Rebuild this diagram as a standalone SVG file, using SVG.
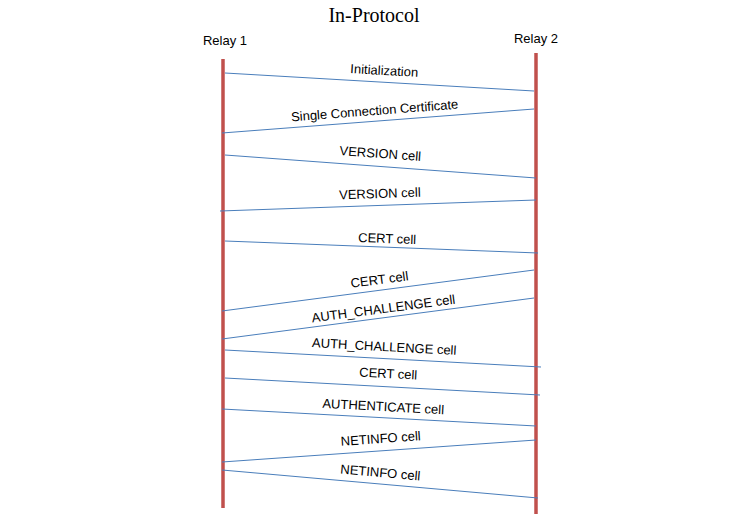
<svg xmlns="http://www.w3.org/2000/svg" width="745" height="529" viewBox="0 0 745 529">
<style>
.lbl{font-family:"Liberation Sans",Arial,sans-serif;font-size:13px;fill:#000;text-anchor:middle}
.title{font-family:"Liberation Serif","Times New Roman",serif;font-size:20px;fill:#000;text-anchor:middle}
.life{stroke:#c0504d;stroke-width:3.5;fill:none}
.msg{stroke:#4a7ebb;stroke-width:1;fill:none}
</style>
<rect width="745" height="529" fill="#fff"/>
<text class="title" x="374" y="22">In-Protocol</text>
<g id="relay1">
<text class="lbl" x="225" y="45">Relay 1</text>
<line class="life" x1="223" y1="59" x2="223" y2="508"/>
</g>
<g id="relay2">
<text class="lbl" x="536" y="43">Relay 2</text>
<line class="life" x1="536" y1="53" x2="536" y2="514"/>
</g>
<g id="connectors">
<line class="msg" x1="225" y1="73" x2="534" y2="91"/>
<line class="msg" x1="534" y1="109" x2="222" y2="133"/>
<line class="msg" x1="225" y1="155" x2="536" y2="178"/>
<line class="msg" x1="536" y1="200" x2="220" y2="211"/>
<line class="msg" x1="225" y1="241" x2="538" y2="253"/>
<line class="msg" x1="534" y1="270" x2="222" y2="311"/>
<line class="msg" x1="534" y1="298" x2="222" y2="339"/>
<line class="msg" x1="225" y1="350" x2="541" y2="367"/>
<line class="msg" x1="225" y1="378" x2="540" y2="395"/>
<line class="msg" x1="222" y1="409" x2="536" y2="426"/>
<line class="msg" x1="536" y1="440" x2="222" y2="462"/>
<line class="msg" x1="222" y1="470" x2="538" y2="498"/>
</g>
<g id="labels">
<text class="lbl" transform="translate(384,75) rotate(3.3)">Initialization</text>
<text class="lbl" transform="translate(375,115) rotate(-4.4)">Single Connection Certificate</text>
<text class="lbl" transform="translate(380,158) rotate(4.2)">VERSION cell</text>
<text class="lbl" transform="translate(380,198) rotate(-2)">VERSION cell</text>
<text class="lbl" transform="translate(387,243) rotate(2.2)">CERT cell</text>
<text class="lbl" transform="translate(380,284) rotate(-7.5)">CERT cell</text>
<text class="lbl" transform="translate(384,313) rotate(-7.5)">AUTH_CHALLENGE cell</text>
<text class="lbl" transform="translate(384,351) rotate(3.1)">AUTH_CHALLENGE cell</text>
<text class="lbl" transform="translate(388,378) rotate(3.1)">CERT cell</text>
<text class="lbl" transform="translate(383,411) rotate(3.1)">AUTHENTICATE cell</text>
<text class="lbl" transform="translate(381,443) rotate(-4)">NETINFO cell</text>
<text class="lbl" transform="translate(380,477) rotate(5.1)">NETINFO cell</text>
</g>
</svg>
